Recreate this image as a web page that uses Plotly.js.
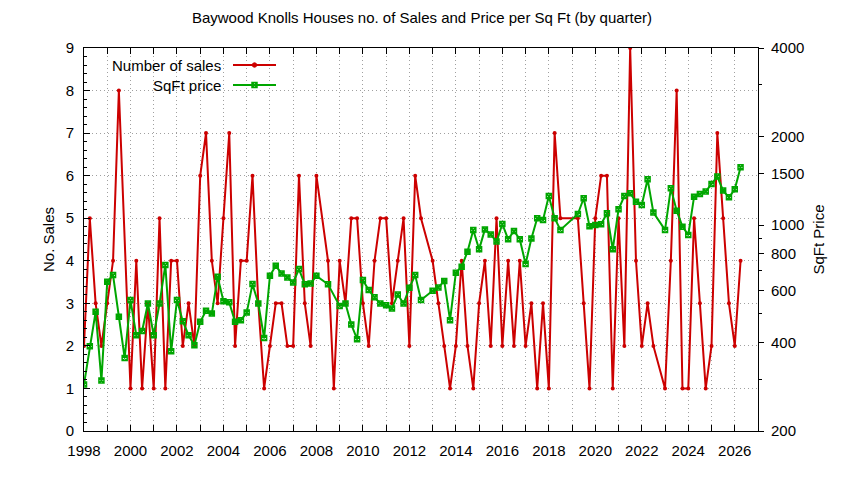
<!DOCTYPE html>
<html><head><meta charset="utf-8">
<script src="https://cdn.plot.ly/plotly-3.0.1.min.js"></script>
<style>html,body{margin:0;padding:0;background:#fff}</style>
</head><body><div id="chart" style="width:844px;height:480px"></div>
<script>
// ---- data ----
const chartTitle = 'Baywood Knolls Houses no. of Sales and Price per Sq Ft (by quarter)';
const salesName = 'Number of sales';
const priceName = 'SqFt price';
const leftAxisTitle = 'No. Sales';
const rightAxisTitle = 'SqFt Price';

const quarters = [
  1998.00,1998.25,1998.50,1998.75, 1999.00,1999.25,1999.50,1999.75,
  2000.00,2000.25,2000.50,2000.75, 2001.00,2001.25,2001.50,2001.75,
  2002.00,2002.25,2002.50,2002.75, 2003.00,2003.25,2003.50,2003.75,
  2004.00,2004.25,2004.50,2004.75, 2005.00,2005.25,2005.50,2005.75,
  2006.00,2006.25,2006.50,2006.75, 2007.00,2007.25,2007.50,2007.75,
  2008.00,2008.25,2008.50,2008.75, 2009.00,2009.25,2009.50,2009.75,
  2010.00,2010.25,2010.50,2010.75, 2011.00,2011.25,2011.50,2011.75,
  2012.00,2012.25,2012.50,2012.75, 2013.00,2013.25,2013.50,2013.75,
  2014.00,2014.25,2014.50,2014.75, 2015.00,2015.25,2015.50,2015.75,
  2016.00,2016.25,2016.50,2016.75, 2017.00,2017.25,2017.50,2017.75,
  2018.00,2018.25,2018.50,2018.75, 2019.00,2019.25,2019.50,2019.75,
  2020.00,2020.25,2020.50,2020.75, 2021.00,2021.25,2021.50,2021.75,
  2022.00,2022.25,2022.50,2022.75, 2023.00,2023.25,2023.50,2023.75,
  2024.00,2024.25,2024.50,2024.75, 2025.00,2025.25,2025.50,2025.75,
  2026.00,2026.25
];

const sales = [
  2,5,3,2,  3,4,8,null,  1,4,1,3,  1,5,1,4,
  4,2,3,2,  6,7,4,3,  5,7,2,4,  4,6,3,1,
  2,3,3,2,  2,6,3,2,  6,null,4,1,  4,3,5,5,
  3,2,4,5,  5,3,4,5,  2,6,5,null,  4,3,2,1,
  2,4,2,1,  3,4,2,5,  2,4,2,4,  2,3,1,3,
  1,7,5,null,  null,5,3,1,  5,6,6,1,  5,2,9,4,
  2,3,2,null,  1,4,8,1,  1,5,3,1,  2,7,5,3,
  2,4
];

const sqftPrice = [
  288,388,508,297,  643,677,489,354,  557,423,437,542,  423,542,733,373,
  557,472,423,391,  470,512,501,668,  552,547,470,476,  505,631,542,414,
  673,728,686,665,  639,710,630,634,  673,null,630,null,  532,542,460,410,
  652,602,569,542,  535,521,582,542,  613,677,557,null,  599,615,647,476,
  690,723,813,964,  828,968,931,880,  1010,896,956,896,  738,902,1056,1042,
  1257,1056,964,null,  null,1092,1235,993,  1002,1007,1098,828,  1133,1257,1284,1202,
  1171,1433,1104,null,  964,1335,1121,989,  927,1250,1277,1301,  1381,1463,1311,1244,
  1325,1574
];

const yearTicks = [1998,2000,2002,2004,2006,2008,2010,2012,2014,2016,2018,2020,2022,2024,2026];
const salesTicks = [0,1,2,3,4,5,6,7,8,9];
const priceTicks = [200,400,600,800,1000,1500,2000,4000];
const priceMinorTicks = [300,500,700,900,3000];

// ---- style ----
const RED = '#cc0000';
const GREEN = '#00a600';
const FONT = 'Liberation Sans, Arial, sans-serif';
const W = 844, H = 480;
const M = {l:84, r:86, t:48, b:49};
const PW = W - M.l - M.r, PH = H - M.t - M.b;
const px2x = p => (p - M.l) / PW;
const px2y = p => (H - M.b - p) / PH;

const traces = [
  {
    x: quarters, y: sales, name: salesName, type: 'scatter', mode: 'lines+markers',
    connectgaps: true, xaxis: 'x', yaxis: 'y',
    line: {color: RED, width: 2},
    marker: {symbol: 'circle', size: 4, color: RED}
  },
  {
    x: quarters, y: sqftPrice, name: priceName, type: 'scatter', mode: 'lines+markers',
    connectgaps: true, xaxis: 'x', yaxis: 'y2',
    line: {color: GREEN, width: 2},
    marker: {symbol: 'square-x-open', size: 5, color: GREEN, line: {color: GREEN, width: 1.5}}
  }
];

const gridColor = '#a0a0a0';
const gridDash = '1px,3px';

// custom gnuplot-like key (text left, sample right)
const keyY1 = 65, keyY2 = 85, keyTextRight = 223, keyL = 233, keyR = 276, keyMid = 254.5;
const annotations = [
  {text: salesName, xref:'paper', yref:'paper', x: px2x(keyTextRight), y: px2y(keyY1),
   xanchor:'right', yanchor:'middle', showarrow:false, font:{family:FONT, size:15, color:'#000'}},
  {text: priceName, xref:'paper', yref:'paper', x: px2x(keyTextRight), y: px2y(keyY2),
   xanchor:'right', yanchor:'middle', showarrow:false, font:{family:FONT, size:15, color:'#000'}}
];
const shapes = [
  {type:'line', xref:'paper', yref:'paper', x0:px2x(keyL), x1:px2x(keyR), y0:px2y(keyY1), y1:px2y(keyY1),
   line:{color:RED, width:2}},
  {type:'circle', xref:'paper', yref:'paper', xsizemode:'pixel', ysizemode:'pixel',
   xanchor:px2x(keyMid), yanchor:px2y(keyY1), x0:-2.2, x1:2.2, y0:-2.2, y1:2.2,
   fillcolor:RED, line:{color:RED, width:1}},
  {type:'line', xref:'paper', yref:'paper', x0:px2x(keyL), x1:px2x(keyR), y0:px2y(keyY2), y1:px2y(keyY2),
   line:{color:GREEN, width:2}},
  {type:'path', xref:'paper', yref:'paper', xsizemode:'pixel', ysizemode:'pixel',
   xanchor:px2x(keyMid), yanchor:px2y(keyY2),
   path:'M-2.5,-2.5 L2.5,-2.5 L2.5,2.5 L-2.5,2.5 Z M-2.5,-2.5 L2.5,2.5 M-2.5,2.5 L2.5,-2.5',
   line:{color:GREEN, width:1.5}}
];

const layout = {
  width: W, height: H,
  margin: {l:M.l, r:M.r, t:M.t, b:M.b, pad:0},
  paper_bgcolor:'#ffffff', plot_bgcolor:'#ffffff',
  font: {family: FONT, size: 15, color: '#000'},
  showlegend: false,
  title: {text: chartTitle, x: 0.5, xanchor: 'center', xref:'container',
          y: 1 - 18/H, yanchor: 'middle', yref: 'container',
          font: {family: FONT, size: 15, color: '#000'}},
  xaxis: {
    range: [1998, 2027], tickmode: 'array', tickvals: yearTicks, ticktext: yearTicks.map(String),
    ticks: 'inside', ticklen: 6, tickwidth: 1, tickcolor: '#000',
    showline: true, linecolor: '#000', linewidth: 1, mirror: 'allticks',
    showgrid: true, gridcolor: gridColor, griddash: gridDash, gridwidth: 1,
    zeroline: false, ticklabelstandoff: 6,
    minor: {dtick: 1, tick0: 1998, ticks: 'inside', ticklen: 3, tickcolor: '#000',
            showgrid: true, gridcolor: gridColor, griddash: gridDash, gridwidth: 1},
    tickfont: {family: FONT, size: 15, color: '#000'}
  },
  yaxis: {
    range: [0, 9], tickmode: 'array', tickvals: salesTicks, ticktext: salesTicks.map(String),
    ticks: 'inside', ticklen: 6, tickwidth: 1, tickcolor: '#000',
    showline: true, linecolor: '#000', linewidth: 1, mirror: true,
    showgrid: true, gridcolor: gridColor, griddash: gridDash, gridwidth: 1,
    zeroline: false, ticklabelstandoff: 6,
    minor: {dtick: 0.2, tick0: 0, ticks: 'inside', ticklen: 3, tickcolor: '#000', showgrid: false},
    title: {text: leftAxisTitle, standoff: 7, font: {family: FONT, size: 15, color: '#000'}},
    tickfont: {family: FONT, size: 15, color: '#000'}
  },
  yaxis2: {
    type: 'log', overlaying: 'y', side: 'right',
    range: [Math.log10(200), Math.log10(4000)],
    tickmode: 'array', tickvals: priceTicks, ticktext: priceTicks.map(String),
    ticks: 'outside', ticklen: 5, tickwidth: 1, tickcolor: '#000',
    showline: false, showgrid: false, zeroline: false, ticklabelstandoff: 4,
    minor: {tickmode: 'array', tickvals: priceMinorTicks, ticks: 'outside', ticklen: 3, tickcolor: '#000', showgrid: false},
    title: {text: rightAxisTitle, standoff: 10, font: {family: FONT, size: 15, color: '#000'}},
    tickfont: {family: FONT, size: 15, color: '#000'}
  },
  annotations: annotations,
  shapes: shapes
};

Plotly.newPlot('chart', traces, layout, {displayModeBar: false, staticPlot: true});
</script>
</body></html>
